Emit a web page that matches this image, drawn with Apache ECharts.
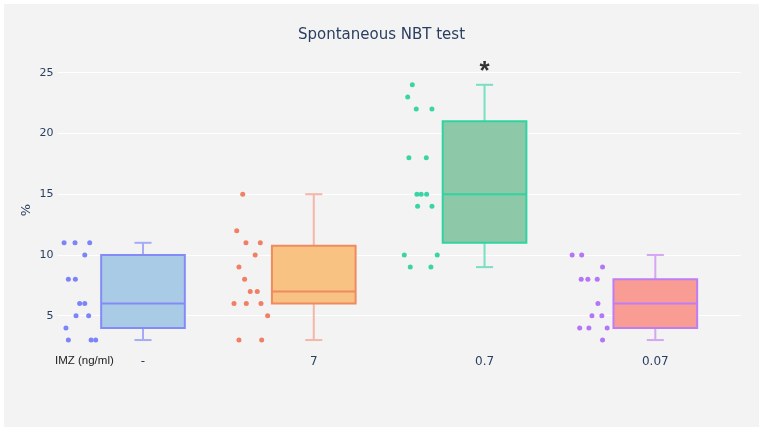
<!DOCTYPE html>
<html>
<head>
<meta charset="utf-8">
<script src="https://cdn.jsdelivr.net/npm/echarts@6/dist/echarts.min.js"></script>
<style>
  html, body { margin: 0; padding: 0; background: #ffffff; }
  #chart { position: absolute; left: 4px; top: 4px; width: 755px; height: 423px; background: #f3f3f3; }
</style>
</head>
<body>
<div id="chart"></div>
<script>
// ---- data ----
const categories = ['-', '7', '0.7', '0.07'];
// box stats: [min, q1, median, q3, max]
const boxStats = [
  [3, 4, 6, 10, 11],
  [3, 6, 7, 10.75, 15],
  [9, 11, 15, 21, 24],
  [3, 4, 6, 8, 10]
];
// raw observations per group
const values0 = [11, 11, 11, 10, 8, 8, 6, 6, 5, 5, 4, 3, 3, 3];
const values1 = [15, 12, 11, 11, 10, 9, 8, 7, 7, 6, 6, 6, 5, 3, 3];
const values2 = [24, 23, 22, 22, 18, 18, 15, 15, 15, 14, 14, 10, 10, 9, 9];
const values3 = [10, 10, 9, 8, 8, 8, 6, 5, 5, 4, 4, 4, 3];
// horizontal jitter of each point, in category units relative to the category centre
const jitter0 = [-0.462, -0.398, -0.312, -0.341, -0.437, -0.396, -0.371, -0.341, -0.392, -0.318, -0.451, -0.437, -0.304, -0.277];
const jitter1 = [-0.416, -0.451, -0.397, -0.313, -0.343, -0.438, -0.405, -0.372, -0.331, -0.467, -0.395, -0.309, -0.270, -0.438, -0.305];
const jitter2 = [-0.423, -0.450, -0.400, -0.308, -0.443, -0.341, -0.396, -0.371, -0.339, -0.392, -0.308, -0.470, -0.277, -0.435, -0.314];
const jitter3 = [-0.487, -0.431, -0.309, -0.434, -0.395, -0.340, -0.336, -0.371, -0.313, -0.443, -0.389, -0.282, -0.309];
const significance = [{ group: 2, value: 24, text: '*' }];

// ---- styles ----
const fillColors   = ['#a9cbe6', '#f8c283', '#8dc9a9', '#f99c94'];
const lineColors   = ['#838cf6', '#f08a5f', '#31d3a1', '#bf7df3'];
const whiskerColors= ['#a6abf6', '#f5b6aa', '#7adfc1', '#d5a6f3'];
const pointColors  = ['#7c85f8', '#f17f66', '#3bd5a5', '#b475f6'];
const BOX_W = 0.49, CAP_W = 0.1;

const allValues = [values0, values1, values2, values3];
const allJitter = [jitter0, jitter1, jitter2, jitter3];

const boxData = boxStats.map((s, i) => [i].concat(s));

const scatterSeries = allValues.map((vals, g) => ({
  type: 'scatter',
  xAxisIndex: 1,
  symbolSize: 5,
  itemStyle: { color: pointColors[g], opacity: 1 },
  data: vals.map((v, k) => [g + allJitter[g][k], v]),
  z: 3
}));

const chart = echarts.init(document.getElementById('chart'));
chart.setOption({
  backgroundColor: '#f3f3f3',
  animation: false,
  title: {
    text: 'Spontaneous NBT test',
    left: 'center',
    top: 19,
    textStyle: { fontFamily: 'DejaVu Sans', fontSize: 15, fontWeight: 'normal', color: '#2a3f5f' }
  },
  grid: { left: 53.6, right: 18.3, top: 56.5, bottom: 82.1 },
  xAxis: [
    {
      type: 'category',
      data: categories,
      axisLine: { show: false },
      axisTick: { show: false },
      splitLine: { show: false },
      axisLabel: { margin: 11, fontFamily: 'DejaVu Sans', fontSize: 12, color: '#2a3f5f' }
    },
    {
      type: 'value',
      min: -0.5,
      max: 3.5,
      show: false
    }
  ],
  yAxis: {
    type: 'value',
    min: 2.6,
    max: 26,
    axisLine: { show: false },
    axisTick: { show: false },
    axisLabel: { margin: 4, showMinLabel: false, showMaxLabel: false, fontFamily: 'DejaVu Sans', fontSize: 11, color: '#2a3f5f' },
    splitLine: { show: true, showMinLine: false, showMaxLine: false, lineStyle: { color: '#ffffff', width: 1 } }
  },
  graphic: [
    { type: 'text', left: 16, top: 200, rotation: Math.PI / 2,
      style: { text: '%', fontFamily: 'DejaVu Sans', fontSize: 13, fill: '#2a3f5f' } },
    { type: 'text', left: 51, top: 351,
      style: { text: 'IMZ (ng/ml)', fontFamily: 'Liberation Sans', fontSize: 11.5, fill: '#222222' } }
  ],
  series: [
    {
      type: 'custom',
      xAxisIndex: 0,
      data: boxData,
      z: 2,
      renderItem: function (params, api) {
        const i = api.value(0);
        const band = api.size([1, 0])[0];
        const bw = band * BOX_W, cw = band * CAP_W;
        const pMin = api.coord([i, api.value(1)]);
        const pQ1 = api.coord([i, api.value(2)]);
        const pMed = api.coord([i, api.value(3)]);
        const pQ3 = api.coord([i, api.value(4)]);
        const pMax = api.coord([i, api.value(5)]);
        const x = pMed[0];
        const wStyle = { stroke: whiskerColors[i], lineWidth: 2 };
        const lStyle = { stroke: lineColors[i], lineWidth: 2 };
        return {
          type: 'group',
          children: [
            { type: 'line', shape: { x1: x, y1: pQ3[1], x2: x, y2: pMax[1] }, style: wStyle },
            { type: 'line', shape: { x1: x, y1: pQ1[1], x2: x, y2: pMin[1] }, style: wStyle },
            { type: 'line', shape: { x1: x - cw / 2, y1: pMax[1], x2: x + cw / 2, y2: pMax[1] }, style: wStyle },
            { type: 'line', shape: { x1: x - cw / 2, y1: pMin[1], x2: x + cw / 2, y2: pMin[1] }, style: wStyle },
            { type: 'rect', shape: { x: x - bw / 2, y: pQ3[1], width: bw, height: pQ1[1] - pQ3[1] },
              style: { fill: fillColors[i], stroke: lineColors[i], lineWidth: 2 } },
            { type: 'line', shape: { x1: x - bw / 2, y1: pMed[1], x2: x + bw / 2, y2: pMed[1] }, style: lStyle }
          ]
        };
      }
    },
    ...scatterSeries,
    {
      type: 'scatter',
      xAxisIndex: 1,
      symbolSize: 0,
      data: significance.map(s => ({ value: [s.group, s.value], label: { formatter: s.text } })),
      label: { show: true, position: 'top', distance: 0, fontFamily: 'Liberation Sans', fontWeight: 'bold', fontSize: 26, color: '#000000' },
      z: 4
    }
  ]
});
</script>
</body>
</html>
